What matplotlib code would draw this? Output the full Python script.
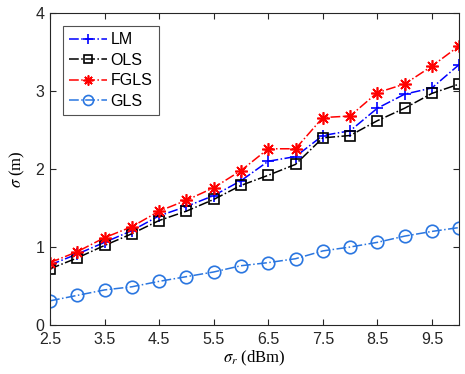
import matplotlib
matplotlib.use("Agg")
import matplotlib.pyplot as plt

plt.rcParams['font.family'] = ['Liberation Sans', 'DejaVu Sans']
plt.rcParams['mathtext.fontset'] = 'stix'

# data
sigma_r = [2.5, 3, 3.5, 4, 4.5, 5, 5.5, 6, 6.5, 7, 7.5, 8, 8.5, 9, 9.5, 10]
lm = [0.77, 0.91, 1.06, 1.21, 1.40, 1.52, 1.66, 1.85, 2.10, 2.16, 2.43, 2.49, 2.78, 2.96, 3.04, 3.34]
ols = [0.72, 0.86, 1.02, 1.17, 1.34, 1.46, 1.61, 1.79, 1.92, 2.06, 2.40, 2.43, 2.62, 2.78, 2.97, 3.09]
fgls = [0.80, 0.94, 1.12, 1.26, 1.46, 1.60, 1.76, 1.98, 2.26, 2.26, 2.66, 2.68, 2.98, 3.09, 3.32, 3.58]
gls = [0.31, 0.38, 0.45, 0.49, 0.56, 0.62, 0.68, 0.76, 0.80, 0.85, 0.95, 1.00, 1.06, 1.14, 1.20, 1.25]
xticks = [2.5, 3.5, 4.5, 5.5, 6.5, 7.5, 8.5, 9.5]
yticks = [0, 1, 2, 3, 4]

fig = plt.figure(figsize=(4.65, 3.74), dpi=100)
ax = fig.add_axes([0.1075, 0.131, 0.88, 0.834])

asterisk = (8, 2, 0)
ax.plot(sigma_r, lm, '-.', color='#0000ff', marker='+', markersize=9, mew=1.2, lw=1.1, label='LM')
ax.plot(sigma_r, ols, '-.', color='black', marker='s', markersize=6.5, mfc='none', mew=1.2, lw=1.1, label='OLS')
ax.plot(sigma_r, fgls, '-.', color='#ff0000', marker=asterisk, markersize=9, mew=1.2, lw=1.1, label='FGLS')
ax.plot(sigma_r, gls, '-.', color='#2a76e0', marker='o', markersize=9, mfc='none', mew=1.2, lw=1.1, label='GLS')

ax.set_xlim(2.5, 10)
ax.set_ylim(0, 4)
ax.set_xticks(xticks)
ax.set_xticklabels([str(t) for t in xticks])
ax.set_yticks(yticks)
ax.tick_params(direction='in', top=True, right=True, labelsize=11.5, colors='#262626', length=4, width=0.8)
ax.tick_params(axis='x', pad=5)
ax.tick_params(axis='y', pad=4)
for s in ax.spines.values():
    s.set_color('#262626')
    s.set_linewidth(0.8)

ax.set_xlabel(r'$\sigma_r$ (dBm)', family='Liberation Serif', fontsize=12, labelpad=1)
ax.set_ylabel(r'$\sigma$ (m)', family='Liberation Serif', fontsize=12, labelpad=6)

leg = ax.legend(loc='upper left', fontsize=11.5, frameon=True, fancybox=False, edgecolor='#262626',
                handlelength=2.4, handletextpad=0.2, borderpad=0.4, labelspacing=0.35,
                borderaxespad=0.8, markerscale=0.8)
leg.get_frame().set_linewidth(0.8)

fig.savefig('out.png', dpi=100)
